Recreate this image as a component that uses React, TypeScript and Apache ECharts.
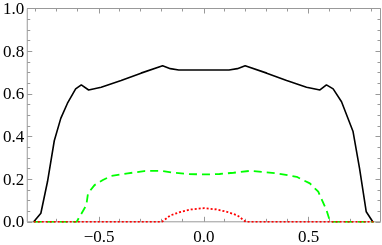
import React, { useEffect, useRef } from "react";
import * as echarts from "echarts";

// ---- data ----
const blackX = [-0.812, -0.778, -0.746, -0.714, -0.683, -0.651, -0.612, -0.585, -0.55, -0.49, -0.395, -0.3, -0.197, -0.16, -0.12, 0, 0.12, 0.16, 0.197, 0.3, 0.395, 0.49, 0.554, 0.585, 0.617, 0.657, 0.712, 0.743, 0.775, 0.806];
const blackY = [0.0, 0.04, 0.19, 0.38, 0.485, 0.556, 0.623, 0.642, 0.618, 0.631, 0.662, 0.697, 0.732, 0.718, 0.712, 0.712, 0.712, 0.718, 0.732, 0.697, 0.662, 0.631, 0.618, 0.642, 0.623, 0.563, 0.423, 0.25, 0.047, 0.0];

const greenX = [-0.812, -0.607, -0.561, -0.553, -0.522, -0.482, -0.443, -0.363, -0.285, -0.205, -0.142, -0.075, 0, 0.075, 0.142, 0.222, 0.348, 0.443, 0.506, 0.546, 0.585, 0.603, 0.812];
const greenY = [0, 0, 0.078, 0.133, 0.172, 0.196, 0.215, 0.227, 0.238, 0.239, 0.23, 0.224, 0.222, 0.224, 0.23, 0.239, 0.227, 0.211, 0.18, 0.141, 0.055, 0, 0];

const redX = [-0.812, -0.2, -0.16, -0.11, -0.06, 0, 0.06, 0.11, 0.16, 0.2, 0.812];
const redY = [0, 0, 0.03, 0.047, 0.058, 0.064, 0.058, 0.047, 0.03, 0, 0];

const xMajorTicks = [-0.5, 0, 0.5];
const xMinorTicks = [-0.8, -0.7, -0.6, -0.4, -0.3, -0.2, -0.1, 0.1, 0.2, 0.3, 0.4, 0.6, 0.7, 0.8];
const xRange = [-0.843, 0.843];
const yRange = [0, 1];

const zip = (xs: number[], ys: number[]) => xs.map((x, i) => [x, ys[i]]);

const FRAME = "#999999";
const FONT = "Liberation Serif";

export default function App() {
  const ref = useRef<HTMLDivElement>(null);
  useEffect(() => {
    if (!ref.current) return;
    const chart = echarts.init(ref.current, undefined, { renderer: "svg" });
    const grid = { left: 26, right: 1.5, top: 8.5, bottom: 23.2 };
    const fmt = (v: number) => v.toFixed(1).replace("-", "\u2212");
    const label = { color: "#000", fontFamily: FONT, fontSize: 17 };
    const noLine = { show: false, onZero: false };
    chart.setOption({
      animation: false,
      grid: [
        { ...grid, show: true, borderColor: FRAME, borderWidth: 1, backgroundColor: "transparent" },
        { ...grid, show: false },
      ],
      xAxis: [
        {
          type: "value", gridIndex: 0, position: "bottom", min: xRange[0], max: xRange[1],
          axisLine: noLine, splitLine: { show: false },
          axisTick: { show: true, inside: true, length: 5, customValues: xMajorTicks, lineStyle: { color: FRAME } },
          axisLabel: { ...label, margin: 6, customValues: xMajorTicks, formatter: fmt },
        },
        {
          type: "value", gridIndex: 0, position: "top", min: xRange[0], max: xRange[1],
          axisLine: noLine, splitLine: { show: false },
          axisTick: { show: true, inside: true, length: 5, customValues: xMajorTicks, lineStyle: { color: FRAME } },
          axisLabel: { show: false },
        },
        {
          type: "value", gridIndex: 1, position: "bottom", min: xRange[0], max: xRange[1],
          axisLine: noLine, splitLine: { show: false },
          axisTick: { show: true, inside: true, length: 3, customValues: xMinorTicks, lineStyle: { color: FRAME } },
          axisLabel: { show: false },
        },
        {
          type: "value", gridIndex: 1, position: "top", min: xRange[0], max: xRange[1],
          axisLine: noLine, splitLine: { show: false },
          axisTick: { show: true, inside: true, length: 3, customValues: xMinorTicks, lineStyle: { color: FRAME } },
          axisLabel: { show: false },
        },
      ],
      yAxis: [
        {
          type: "value", gridIndex: 0, position: "left", min: yRange[0], max: yRange[1], interval: 0.2,
          axisLine: noLine, splitLine: { show: false },
          axisTick: { show: true, inside: true, length: 5, lineStyle: { color: FRAME } },
          minorTick: { show: true, splitNumber: 4, length: 3, lineStyle: { color: FRAME } },
          axisLabel: { ...label, margin: 3, formatter: fmt },
        },
        {
          type: "value", gridIndex: 0, position: "right", min: yRange[0], max: yRange[1], interval: 0.2,
          axisLine: noLine, splitLine: { show: false },
          axisTick: { show: true, inside: true, length: 5, lineStyle: { color: FRAME } },
          minorTick: { show: true, splitNumber: 4, length: 3, lineStyle: { color: FRAME } },
          axisLabel: { show: false },
        },
        {
          type: "value", gridIndex: 1, min: yRange[0], max: yRange[1], show: false,
          axisLine: noLine,
        },
      ],
      series: [
        {
          type: "line", xAxisIndex: 0, yAxisIndex: 0, data: zip(blackX, blackY), symbol: "none",
          lineStyle: { color: "#000", width: 1.6 },
        },
        {
          type: "line", xAxisIndex: 0, yAxisIndex: 0, data: zip(greenX, greenY), symbol: "none",
          lineStyle: { color: "#00ff00", width: 1.8, type: [8, 5] },
        },
        {
          type: "line", xAxisIndex: 0, yAxisIndex: 0, data: zip(redX, redY), symbol: "none",
          lineStyle: { color: "#ff0000", width: 1.8, type: [2, 2] },
        },
      ],
    });
    return () => chart.dispose();
  }, []);
  return (
    <div
      ref={ref}
      style={{ position: "fixed", left: 0, top: 0, width: 382, height: 245 }}
    />
  );
}
